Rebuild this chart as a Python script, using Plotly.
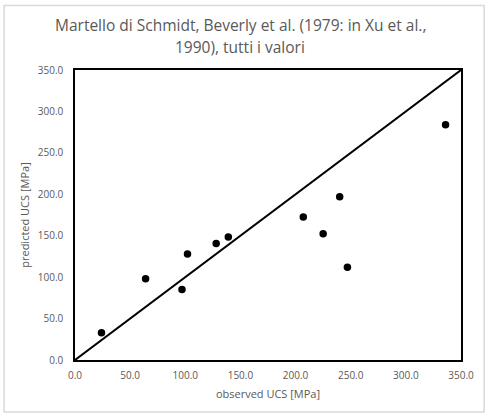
import plotly.graph_objects as go

# Observed vs predicted uniaxial compressive strength (MPa)
observed_ucs = [24, 64, 97, 102, 128, 139, 207, 225, 240, 247, 336]
predicted_ucs = [33, 98, 85, 128, 140.5, 148.5, 172.5, 152.5, 197, 112, 284]

# 1:1 reference line
ref_line = [0, 350]

tick_vals = [0, 50, 100, 150, 200, 250, 300, 350]
tick_text = ["0.0", "50.0", "100.0", "150.0", "200.0", "250.0", "300.0", "350.0"]

title_lines = ["Martello di Schmidt, Beverly et al. (1979: in Xu et al.,",
               "1990), tutti i valori"]

FONT = "Open Sans"
GREY = "#595959"

fig = go.Figure()
fig.add_trace(go.Scatter(
    x=ref_line, y=ref_line, mode="lines",
    line=dict(color="black", width=2), hoverinfo="skip", showlegend=False,
))
fig.add_trace(go.Scatter(
    x=observed_ucs, y=predicted_ucs, mode="markers",
    marker=dict(color="black", size=7.5), showlegend=False,
))

axis_common = dict(
    range=[0, 350], tickvals=tick_vals, ticktext=tick_text,
    showgrid=False, zeroline=False, showline=True, mirror=True,
    linecolor="black", linewidth=1.5, ticks="",
    tickfont=dict(family=FONT, size=10, color=GREY),
)

# Two-line chart title, centred on the whole figure
title_annotations = [
    dict(text=line, x=0.4286, y=yy, xref="paper", yref="paper",
         xanchor="center", yanchor="middle", showarrow=False,
         font=dict(family=FONT, size=15.5, color=GREY))
    for line, yy in zip(title_lines, [1.155, 1.078])
]

fig.update_layout(
    width=486, height=418,
    margin=dict(l=75, r=19, t=69.5, b=58),
    paper_bgcolor="white", plot_bgcolor="white",
    annotations=title_annotations,
    xaxis=dict(
        **axis_common, ticklabelstandoff=5,
        title=dict(text="observed UCS [MPa]", standoff=10,
                   font=dict(family=FONT, size=11, color=GREY)),
    ),
    yaxis=dict(
        **axis_common, ticklabelstandoff=8,
        title=dict(text="predicted UCS [MPa]", standoff=6,
                   font=dict(family=FONT, size=11, color=GREY)),
    ),
    shapes=[dict(
        type="rect", xref="paper", yref="paper",
        x0=-0.1837, x1=1.06, y0=-0.179, y1=1.222,
        line=dict(color="#d9d9d9", width=1.5), fillcolor="rgba(0,0,0,0)",
        layer="below",
    )],
)

fig.write_html("out.html")
